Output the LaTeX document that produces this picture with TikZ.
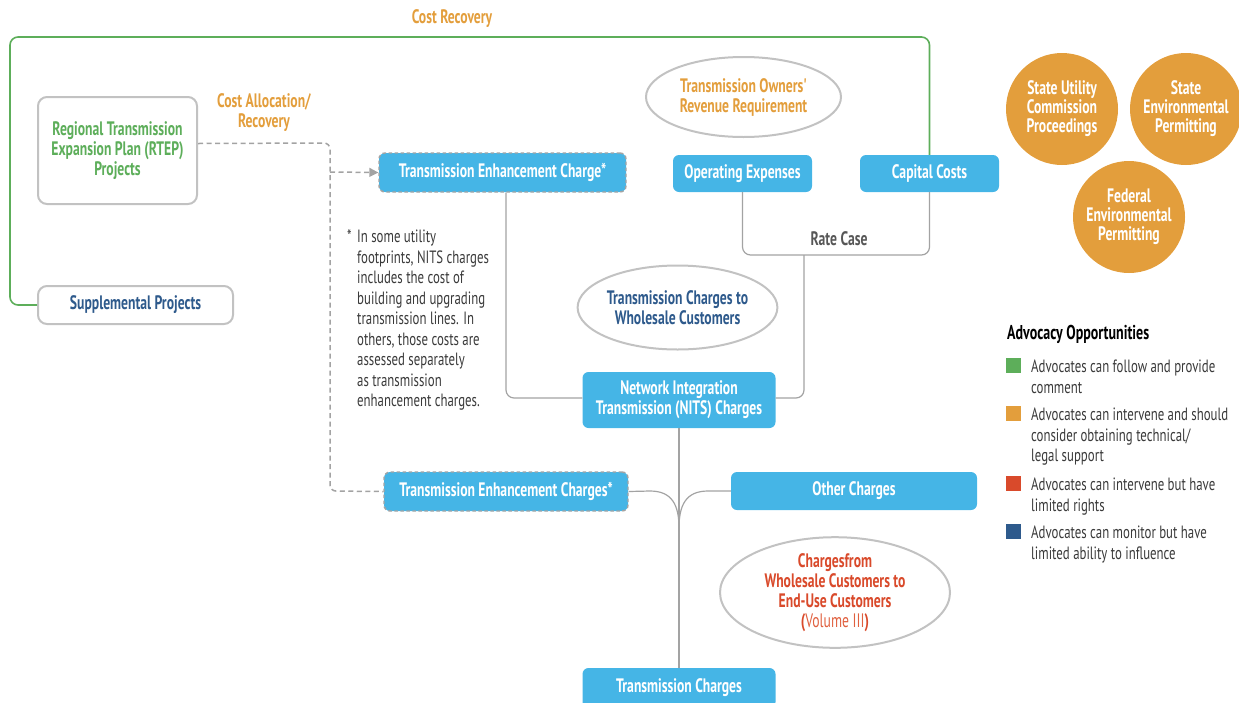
\documentclass[tikz,border=0pt]{standalone}
\usepackage{fontspec}
\setmainfont{PT Sans}[FakeStretch=0.72]
\newfontfamily\bxf{PT Sans}[FakeStretch=0.70]
\usetikzlibrary{arrows.meta,shapes.geometric}
\definecolor{cblue}{HTML}{45B5E6}
\definecolor{corange}{HTML}{E39E3C}
\definecolor{cgreen}{HTML}{5DAE5A}
\definecolor{cred}{HTML}{D94A2B}
\definecolor{clred}{HTML}{E0603F}
\definecolor{cdblue}{HTML}{2E5A8C}
\definecolor{cgray}{HTML}{A3A3A3}
\definecolor{cegray}{HTML}{C2C2C2}
\definecolor{ctext}{HTML}{3A3A3A}
\tikzset{
  bfont/.style={font=\bxf\fontsize{19.5}{20}\selectfont\bfseries},
  bbox/.style={bfont, rectangle, rounded corners=6pt, fill=cblue, text=white, inner sep=0pt, align=center},
  dbox/.style={bbox, draw=cgray, dashed, line width=1.4pt, dash pattern=on 3.5pt off 2.5pt},
  graybox/.style={bfont, rectangle, rounded corners=9pt, draw=cegray, line width=2pt, fill=white, inner sep=0pt, align=center},
  ell/.style={bfont, ellipse, draw=cegray, line width=2pt, inner sep=0pt, align=center},
  orc/.style={circle, fill=corange, text=white, inner sep=0pt, minimum size=112pt, align=center, font=\bxf\fontsize{19.5}{19}\selectfont\bfseries},
  gline/.style={draw=cgray, line width=1.2pt},
  dline/.style={draw=cgray, line width=1.5pt, dash pattern=on 5pt off 3.5pt},
  grline/.style={draw=cgreen, line width=1.6pt},
  lsq/.style={rectangle, inner sep=0pt, minimum size=15pt},
  ltext/.style={anchor=north west, align=left, inner sep=0pt, text=ctext, font=\fontsize{17.8}{20.5}\selectfont},
}
\begin{document}
\begin{tikzpicture}[x=1pt,y=-1pt]
\useasboundingbox (0,0) rectangle (1239,702);
% nodes
\node[graybox, minimum width=159pt, minimum height=107pt, text=cgreen] (rtep) at (117.5,150.5) {Regional Transmission\\Expansion Plan (RTEP)\\Projects};
\node[graybox, minimum width=195pt, minimum height=38pt, text=cdblue] (supp) at (135.5,305) {Supplemental Projects};
\node[dbox, minimum width=247pt, minimum height=39pt] (tec1) at (502.5,172.5) {Transmission Enhancement Charge*};
\node[bbox, minimum width=139pt, minimum height=37pt] (opex) at (742.5,173.5) {Operating Expenses};
\node[bbox, minimum width=139pt, minimum height=37pt] (cap) at (929.5,173.5) {Capital Costs};
\node[ell, minimum width=195pt, minimum height=80pt, text=corange] (torr) at (743.5,97) {Transmission Owners'\\Revenue Requirement};
\node[ell, minimum width=195pt, minimum height=84pt, text=cdblue] (tcwc) at (677.5,307.5) {Transmission Charges to\\Wholesale Customers};
\node[bbox, minimum width=193pt, minimum height=56pt] (nits) at (679,400) {Network Integration\\Transmission (NITS) Charges};
\node[dbox, minimum width=244pt, minimum height=39pt] (tec2) at (506,491.5) {Transmission Enhancement Charges*};
\node[bbox, minimum width=246pt, minimum height=38pt] (other) at (854,491) {Other Charges};
\node[ell, minimum width=230pt, minimum height=100pt, text=cred] (cwe) at (835,592.5) {Chargesfrom\\Wholesale Customers to\\End-Use Customers\\(\textcolor{clred}{\mdseries Volume III})};
\node[bbox, minimum width=193pt, minimum height=40pt] (tc) at (679,688) {Transmission Charges};
% labels
\node[bfont, text=corange] (costrec) at (452,19) {Cost Recovery};
\node[bfont, text=corange, align=center] (costalloc) at (264,113) {Cost Allocation/\\Recovery};
\node[bfont, text=ctext!85] (ratecase) at (839,239) {Rate Case};
% footnote
\node[ltext] (star) at (347,230) {*};
\node[ltext] (foot) at (357,230) {In some utility\\footprints, NITS charges\\includes the cost of\\building and upgrading\\transmission lines. In\\others, those costs are\\assessed separately\\as transmission\\enhancement charges.};
% circles
\node[orc] (suc) at (1062,109) {State Utility\\Commission\\Proceedings};
\node[orc] (sep) at (1186,109) {State\\Environmental\\Permitting};
\node[orc] (fep) at (1129,217) {Federal\\Environmental\\Permitting};
% legend
\node[anchor=west, inner sep=0pt, font=\bxf\fontsize{20}{20}\selectfont\bfseries, text=black] (lt) at (1007,334) {Advocacy Opportunities};
\node[lsq, fill=cgreen] (l1) at (1013.5,365.5) {};
\node[lsq, fill=corange] (l2) at (1013.5,413.5) {};
\node[lsq, fill=cred] (l3) at (1013.5,483.5) {};
\node[lsq, fill=cdblue] (l4) at (1013.5,531.5) {};
\node[ltext] (t1) at (1031,360) {Advocates can follow and provide\\comment};
\node[ltext] (t2) at (1031,408) {Advocates can intervene and should\\consider obtaining technical/\\legal support};
\node[ltext] (t3) at (1031,478) {Advocates can intervene but have\\limited rights};
\node[ltext] (t4) at (1031,526) {Advocates can monitor but have\\limited ability to influence};
% connectors
\draw[grline, rounded corners=8pt] (supp.west) -- (10,305) -- (10,37) -- (cap.north |- 0,37) -- (cap.north);
\draw[dline, rounded corners=6pt] ([yshift=7pt]rtep.east) -- (330,143) -- (330,491) -- (tec2.west);
\draw[dline, -{Triangle[length=9pt,width=9pt]}] (330,172) -- (tec1.west);
\coordinate (rc) at (804,255);
\draw[gline, rounded corners=8pt] (opex.south) -- (opex.south |- rc) -- (cap.south |- rc) -- (cap.south);
\draw[gline, rounded corners=8pt] (rc) -- (804,398) -- (nits.east |- 0,398);
\draw[gline, rounded corners=8pt] (506,0 |- tec1.south) -- (506,398) -- (nits.west |- 0,398);
\draw[gline] (nits.south) -- (tc.north);
\coordinate (merge) at (679,528);
\draw[gline] (tec2.east) -- (650,491) .. controls (672,491) and (679,505) .. (merge);
\draw[gline] (other.west) -- (708,491) .. controls (686,491) and (679,505) .. (merge);
\end{tikzpicture}
\end{document}
